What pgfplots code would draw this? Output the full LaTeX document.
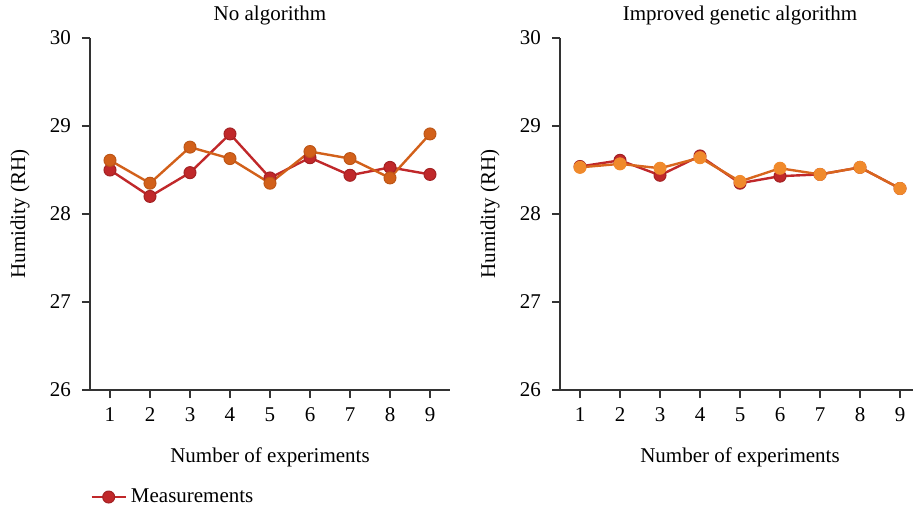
\documentclass[border=0pt]{standalone}
\usepackage{fontspec}
\setmainfont{Liberation Serif}
\usepackage{pgfplots}
\pgfplotsset{compat=1.18}

\definecolor{measred}{HTML}{C0282A}
\definecolor{leftorange}{HTML}{D2601A}
\definecolor{rightorange}{HTML}{F08A2C}
\definecolor{rightline}{HTML}{D8661E}

\pgfplotsset{
  humid/.style={
    width=180pt, height=176pt, scale only axis,
    xmin=0.5, xmax=9.5, ymin=26, ymax=30,
    xtick={1,...,9}, ytick={26,27,28,29,30},
    axis x line*=bottom, axis y line*=left,
    axis line style={draw=black!80, line width=0.7pt, -},
    tick style={draw=black!80, line width=0.7pt},
    tick align=outside, major tick length=4pt,
    font=\fontsize{10.5}{12.6}\selectfont,
    /pgf/number format/assume math mode=true,
    xticklabel style={yshift=-1.5pt, text height=0.68em, text depth=0pt},
    yticklabel style={xshift=-2pt},
    xlabel={Number of experiments}, ylabel={Humidity (RH)},
    xlabel style={at={(axis description cs:0.5,-0.19)}, anchor=center},
    ylabel style={at={(axis description cs:-0.194,0.5)}, anchor=center},
    every axis title/.style={at={(axis description cs:0.5,1.065)}, anchor=center},
    clip=false,
  },
  meas/.style={measred, line width=1.2pt, mark=*, mark size=3pt,
    mark options={fill=measred, draw=measred!85!black, line width=0.5pt}},
}

\begin{document}
\begin{tikzpicture}
% left panel
\begin{axis}[humid, at={(45pt,60.5pt)}, anchor=south west,
    title={No algorithm},
    legend style={draw=none, fill=none, at={(axis description cs:0,-0.304)}, anchor=west,
      inner sep=0pt, font=\fontsize{10.5}{12.6}\selectfont},
    legend cell align=left]
  \addplot[meas]
    coordinates {(1,28.50) (2,28.20) (3,28.47) (4,28.91) (5,28.41) (6,28.64) (7,28.44) (8,28.53) (9,28.45)};
  \addlegendentry{Measurements}
  \addplot[leftorange, line width=1.2pt, mark=*, mark size=3pt,
    mark options={fill=leftorange, draw=leftorange!90!black, line width=0.5pt}, forget plot]
    coordinates {(1,28.61) (2,28.35) (3,28.76) (4,28.63) (5,28.35) (6,28.71) (7,28.63) (8,28.41) (9,28.91)};
\end{axis}
% right panel
\begin{axis}[humid, at={(280pt,60.5pt)}, anchor=south west,
    title={Improved genetic algorithm}]
  \addplot[meas]
    coordinates {(1,28.54) (2,28.61) (3,28.44) (4,28.66) (5,28.35) (6,28.43) (7,28.45) (8,28.53) (9,28.29)};
  \addplot[rightline, line width=1.2pt, mark=*, mark size=3pt,
    mark options={fill=rightorange, draw=rightorange, line width=0.5pt}]
    coordinates {(1,28.53) (2,28.57) (3,28.52) (4,28.64) (5,28.37) (6,28.52) (7,28.45) (8,28.53) (9,28.29)};
\end{axis}
\pgfresetboundingbox
\useasboundingbox (0,0) rectangle (456.5pt,255.5pt);
\end{tikzpicture}
\end{document}
